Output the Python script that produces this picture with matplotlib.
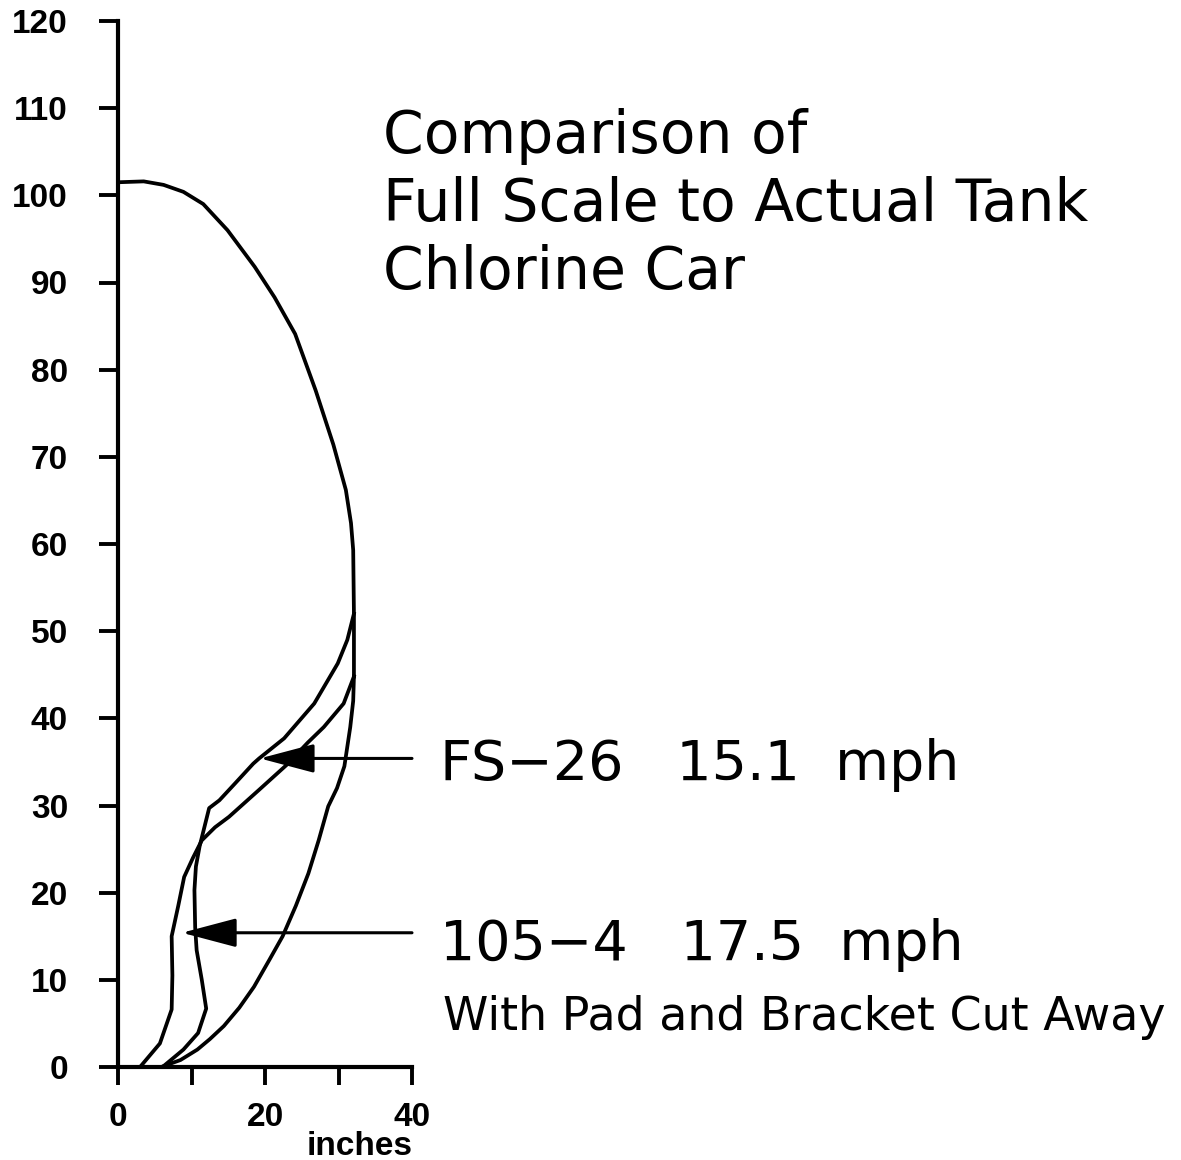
import matplotlib
matplotlib.use("Agg")
import matplotlib.pyplot as plt

# outline of the car head (full scale)
head_x = [0, 3.5, 6.2, 8.9, 11.6, 14.9, 18.6, 21.3, 24.1, 26.9, 29.3, 31.0, 31.7, 32.0, 32.1, 32.1]
head_y = [101.5, 101.6, 101.2, 100.4, 99.0, 96.0, 91.8, 88.3, 84.1, 77.6, 71.4, 66.2, 62.4, 59.3, 52.0, 44.8]

# outer lower profile, from the vertical edge down to the floor
outer_x = [32.1, 32.0, 31.6, 30.8, 29.8, 28.6, 27.3, 25.9, 24.2, 22.4, 20.6, 18.5, 16.5, 14.4, 12.5, 10.8, 8.5, 6.2]
outer_y = [44.8, 42.0, 39.0, 34.5, 32.0, 29.9, 26.0, 22.2, 18.5, 15.0, 12.3, 9.2, 6.8, 4.7, 3.2, 2.0, 0.8, 0.1]

# 105-4 test profile
car_x = [3.0, 5.7, 7.3, 7.4, 7.3, 8.2, 9.0, 10.2, 11.4, 13.2, 15.1, 19.2, 23.0, 25.8, 28.0, 30.7, 32.1]
car_y = [0, 2.7, 6.6, 10.5, 15.0, 18.5, 21.8, 24.0, 26.0, 27.5, 28.7, 31.8, 34.7, 37.2, 39.0, 41.7, 44.8]

# FS-26 test profile
fs_x = [6.2, 8.9, 10.9, 12.0, 11.4, 10.7, 10.5, 10.4, 10.6, 11.1, 12.4, 13.8, 16.0, 18.4, 19.2, 22.6, 26.7, 29.9, 31.2, 32.1]
fs_y = [0.1, 2.0, 3.9, 6.7, 10.0, 13.4, 16.0, 20.3, 23.0, 25.3, 29.7, 30.6, 32.6, 34.8, 35.4, 37.7, 41.7, 46.3, 49.0, 52.0]

x_ticks = [0, 10, 20, 30, 40]
x_tick_labels = ["0", "", "20", "", "40"]
y_ticks = list(range(0, 121, 10))

title_lines = ["Comparison of", "Full Scale to Actual Tank", "Chlorine Car"]
fs_label = "FS\u221226   15.1  mph"
car_label = "105\u22124   17.5  mph"
car_note = "With Pad and Bracket Cut Away"
fs_tip = (19.3, 35.4)
car_tip = (8.7, 15.4)

fig = plt.figure(figsize=(11.81, 11.60), dpi=100)
ax = fig.add_axes([118 / 1181, 93 / 1160, 294 / 1181, 1046 / 1160])

lw = 2.7
ax.plot(head_x, head_y, color="black", lw=lw, solid_joinstyle="round")
ax.plot(outer_x, outer_y, color="black", lw=lw, solid_joinstyle="round")
ax.plot(car_x, car_y, color="black", lw=lw, solid_joinstyle="round")
ax.plot(fs_x, fs_y, color="black", lw=lw, solid_joinstyle="round")

ax.set_xlim(0, 40)
ax.set_ylim(0, 120)
for s in ["top", "right"]:
    ax.spines[s].set_visible(False)
for s in ["left", "bottom"]:
    ax.spines[s].set_linewidth(3)

ax.set_xticks(x_ticks)
ax.set_xticklabels(x_tick_labels)
ax.set_yticks(y_ticks)
ax.tick_params(axis="y", direction="out", length=14, width=2.8, pad=22,
               labelsize=24)
ax.tick_params(axis="x", direction="out", length=13, width=2.8, pad=12,
               labelsize=24)
for lab in ax.get_xticklabels() + ax.get_yticklabels():
    lab.set_fontweight("bold")
    lab.set_family("Liberation Sans")

ax.text(32.9, -10.1, "inches", ha="center", va="baseline", fontsize=24,
        fontweight="bold", family="Liberation Sans", clip_on=False)

# title block
for i, line in enumerate(title_lines):
    ax.text(36.05, 104.9 - 7.8 * i, line, ha="left", va="baseline",
            fontsize=42, clip_on=False)

# arrows and labels
for tip in [fs_tip, car_tip]:
    ax.annotate("", xy=tip, xytext=(40, tip[1]),
                arrowprops=dict(arrowstyle="-|>,head_length=1.7,head_width=0.45",
                                mutation_scale=20, lw=2.2, color="black",
                                shrinkA=0, shrinkB=0),
                annotation_clip=False)

ax.text(43.8, 32.9, fs_label, ha="left", va="baseline", fontsize=40, clip_on=False)
ax.text(43.8, 12.3, car_label, ha="left", va="baseline", fontsize=40, clip_on=False)
ax.text(44.2, 4.2, car_note, ha="left", va="baseline", fontsize=33, clip_on=False)

fig.savefig("out.png", dpi=100)
